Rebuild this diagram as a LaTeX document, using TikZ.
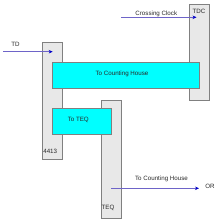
\documentclass[tikz,border=0pt]{standalone}
\usepackage{fontspec}
\setmainfont{Liberation Sans}
\usetikzlibrary{arrows.meta}
\definecolor{arrline}{RGB}{110,100,200}
\definecolor{arrhead}{RGB}{0,0,200}
\definecolor{boxcyan}{RGB}{0,255,255}
\definecolor{boxgray}{RGB}{232,232,232}
\definecolor{edgegray}{RGB}{128,128,128}
\definecolor{txt}{RGB}{40,40,40}
\begin{document}
\begin{tikzpicture}[x=1pt,y=-1pt,
  gbox/.style={draw=edgegray,fill=boxgray,line width=0.8pt,inner sep=0pt,anchor=north west},
  cbox/.style={draw=edgegray,fill=boxcyan,line width=0.8pt,inner sep=0pt,anchor=north west},
  lbl/.style={font=\fontsize{6.2}{7}\selectfont,text=txt,inner sep=0pt},
  arr/.style={draw=arrline,line width=0.6pt,-{Stealth[length=4pt,width=3.5pt,color=arrhead]}}]
\useasboundingbox (0,0) rectangle (222,222);
% gray blocks
\node[gbox,minimum width=20pt,minimum height=117pt] (b4413) at (42.3,42.3) {};
\node[gbox,minimum width=20pt,minimum height=96pt] (btdc) at (189.3,3.8) {};
\node[gbox,minimum width=20pt,minimum height=118pt] (bteq) at (101.3,100) {};
% cyan blocks
\node[cbox,minimum width=147pt,minimum height=26.5pt] (ch) at (52.3,61.7) {};
\node[cbox,minimum width=58.7pt,minimum height=26pt] (cteq) at (52.3,108.3) {};
% labels in blocks
\node[lbl] (t4413) at (50.2,151.3) {4413};
\node[lbl] (ttdc) at (199,11) {TDC};
\node[lbl] (tteq) at (108,208) {TEQ};
\node[lbl] (tch) at (122,74) {To Counting House};
\node[lbl] (tcteq) at (78.3,120.3) {To TEQ};
% arrows
\coordinate (tdin) at (3,51.7);
\coordinate (tdend) at (52.7,51.7);
\coordinate (ccin) at (121,17.3);
\coordinate (ccend) at (196.5,17.3);
\coordinate (orin) at (111,188.3);
\coordinate (orend) at (199,188.3);
\draw[arr] (tdin) -- (tdend);
\draw[arr] (ccin) -- (ccend);
\draw[arr] (orin) -- (orend);
\node[lbl] (ttd) at (15.5,44.3) {TD};
\node[lbl] (tcc) at (156.3,13.5) {Crossing Clock};
\node[lbl] (tout) at (161.5,178.7) {To Counting House};
\node[lbl] (tor) at (210,186) {OR};
\end{tikzpicture}
\end{document}
